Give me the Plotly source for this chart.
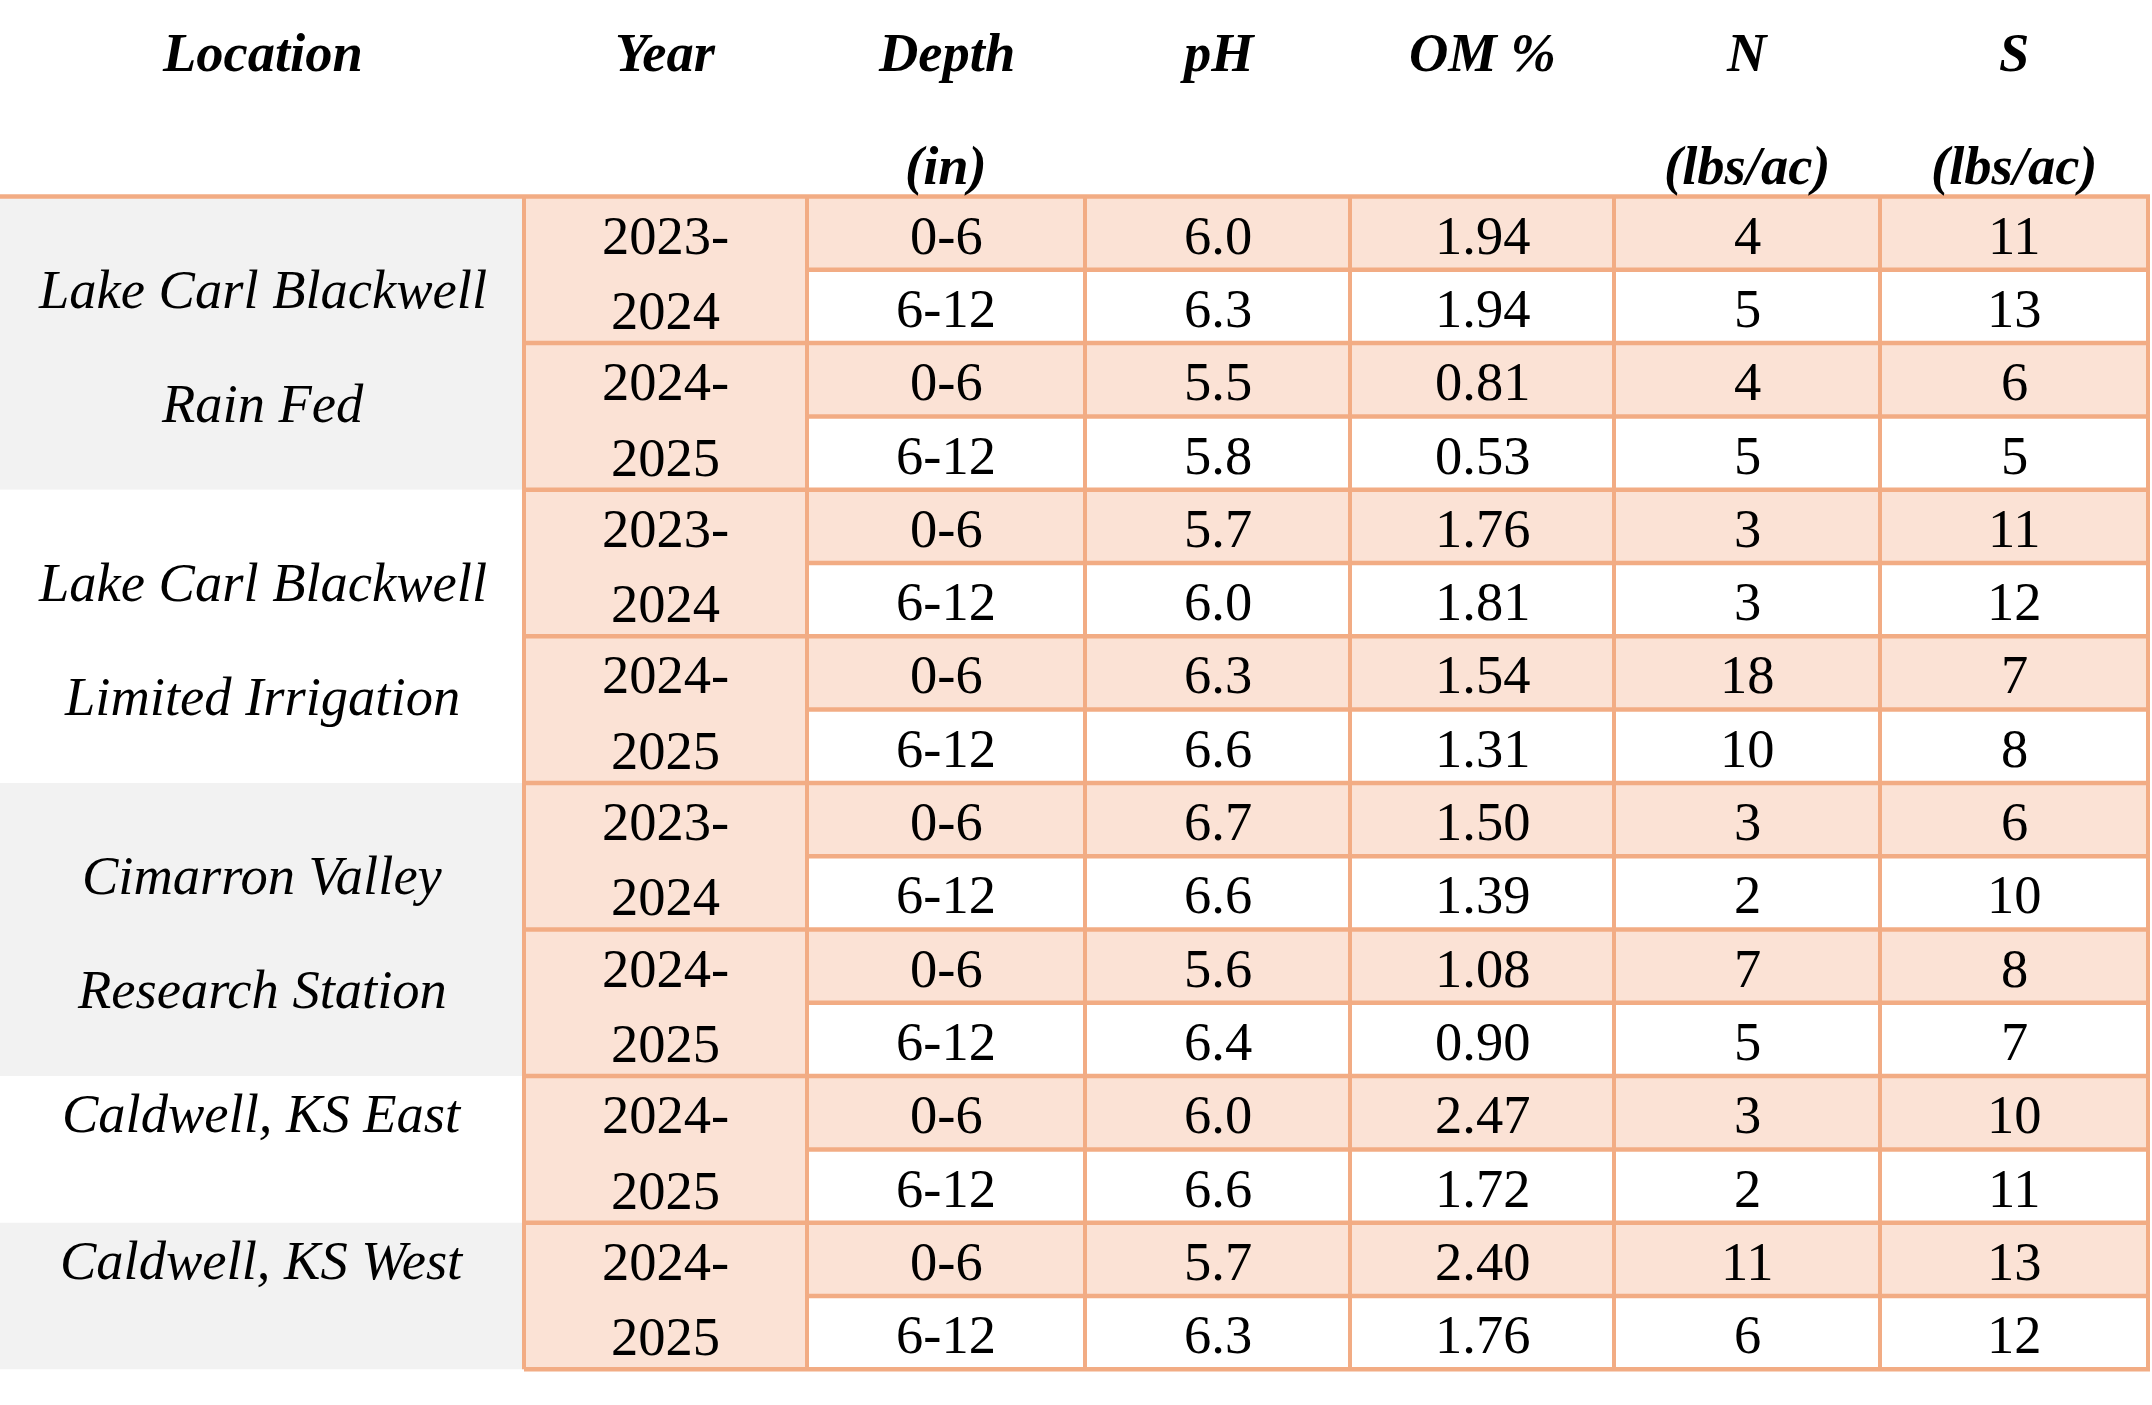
import plotly.graph_objects as go

# ---------------- data ----------------
headers_line1 = ["Location", "Year", "Depth", "pH", "OM %", "N", "S"]
headers_line2 = ["", "", "(in)", "", "", "(lbs/ac)", "(lbs/ac)"]

locations = [
    ["Lake Carl Blackwell", "Rain Fed"],
    ["Lake Carl Blackwell", "Limited Irrigation"],
    ["Cimarron Valley", "Research Station"],
    ["Caldwell, KS East"],
    ["Caldwell, KS West"],
]
years_per_location = [
    ["2023-2024", "2024-2025"],
    ["2023-2024", "2024-2025"],
    ["2023-2024", "2024-2025"],
    ["2024-2025"],
    ["2024-2025"],
]
depth = ["0-6", "6-12", "0-6", "6-12", "0-6", "6-12", "0-6", "6-12",
         "0-6", "6-12", "0-6", "6-12", "0-6", "6-12", "0-6", "6-12"]
ph = [6.0, 6.3, 5.5, 5.8, 5.7, 6.0, 6.3, 6.6, 6.7, 6.6, 5.6, 6.4, 6.0, 6.6, 5.7, 6.3]
om = [1.94, 1.94, 0.81, 0.53, 1.76, 1.81, 1.54, 1.31, 1.50, 1.39, 1.08, 0.90,
      2.47, 1.72, 2.40, 1.76]
n_lbs = [4, 5, 4, 5, 3, 3, 18, 10, 3, 2, 7, 5, 3, 2, 11, 6]
s_lbs = [11, 13, 6, 5, 11, 12, 7, 8, 6, 10, 8, 7, 10, 11, 13, 12]

# ---------------- layout constants ----------------
W, H = 2152, 1405
col_edges = [0, 524, 807, 1085, 1350, 1614, 1880, 2148]
header_bottom = 196.5
row_h = 73.3
rows_per_year = 2

LINE = "#F2AC84"
PEACH = "#FBE2D5"
GREY = "#F2F2F2"
WHITE = "#FFFFFF"
FONT = "Liberation Serif, Times New Roman, serif"
FS = 54.5

n_rows = len(depth)
table_bottom = header_bottom + n_rows * row_h


def row_top(i):
    return header_bottom + i * row_h


def row_center(i):
    return header_bottom + (i + 0.5) * row_h


def col_center(c):
    return (col_edges[c] + col_edges[c + 1]) / 2


shapes = []
annotations = []


def rect(x0, x1, y0, y1, color):
    shapes.append(dict(type="rect", xref="x", yref="y", x0=x0, x1=x1, y0=y0, y1=y1,
                       fillcolor=color, line=dict(width=0), layer="below"))


def hline(x0, x1, y, w=4.5):
    shapes.append(dict(type="line", xref="x", yref="y", x0=x0, x1=x1, y0=y, y1=y,
                       line=dict(color=LINE, width=w)))


def vline(x, y0, y1, w=4):
    shapes.append(dict(type="line", xref="x", yref="y", x0=x, x1=x, y0=y0, y1=y1,
                       line=dict(color=LINE, width=w)))


def text(x, y, t, style="normal", weight="normal"):
    annotations.append(dict(x=x, y=y, xref="x", yref="y", text=t, showarrow=False,
                            xanchor="center", yanchor="middle",
                            font=dict(family=FONT, size=FS, color="#000000",
                                      style=style, weight=weight)))


# ---------------- fills ----------------
r = 0
for g, yrs in enumerate(locations):
    nr = len(years_per_location[g]) * rows_per_year
    rect(col_edges[0], col_edges[1], row_top(r), row_top(r + nr), GREY if g % 2 == 0 else WHITE)
    r += nr
rect(col_edges[1], col_edges[2], row_top(0), row_top(n_rows), PEACH)
for i in range(n_rows):
    rect(col_edges[2], col_edges[-1], row_top(i), row_top(i + 1), PEACH if i % 2 == 0 else WHITE)

# ---------------- lines ----------------
hline(0, col_edges[-1] + 2, header_bottom, 4.5)
for i in range(1, n_rows + 1):
    x0 = col_edges[1] if i % rows_per_year == 0 else col_edges[2]
    hline(x0, col_edges[-1] + 2, row_top(i))
for c in range(1, len(col_edges)):
    vline(col_edges[c], header_bottom, table_bottom)

# ---------------- header text ----------------
for c, (h1, h2) in enumerate(zip(headers_line1, headers_line2)):
    text(col_center(c), 52, h1, "italic", "bold")
    if h2:
        text(col_center(c), 165, h2, "italic", "bold")

# ---------------- location & year text ----------------
r = 0
for g, lines in enumerate(locations):
    yrs = years_per_location[g]
    nr = len(yrs) * rows_per_year
    if len(lines) == 2:
        mid = (row_top(r) + row_top(r + nr)) / 2 + 3
        text(col_center(0), mid - 57, lines[0], "italic")
        text(col_center(0), mid + 57, lines[1], "italic")
    else:
        text(col_center(0), row_center(r) + 1, lines[0], "italic")
    for k, yr in enumerate(yrs):
        a, b = yr.split("-")
        rr = r + k * rows_per_year
        text(col_center(1), row_center(rr) + 2, a + "-")
        text(col_center(1), row_center(rr + 1) + 4, b)
    r += nr

# ---------------- data cells ----------------
for i in range(n_rows):
    vals = [depth[i], f"{ph[i]:.1f}", f"{om[i]:.2f}", str(n_lbs[i]), str(s_lbs[i])]
    for j, v in enumerate(vals):
        text(col_center(j + 2), row_center(i) + 2, v)

fig = go.Figure()
fig.add_trace(go.Scatter(x=[0, W], y=[0, H], mode="markers",
                         marker=dict(opacity=0), hoverinfo="skip", showlegend=False))
fig.update_layout(
    width=W, height=H,
    margin=dict(l=0, r=0, t=0, b=0),
    paper_bgcolor="white", plot_bgcolor="white",
    xaxis=dict(range=[0, W], visible=False, fixedrange=True),
    yaxis=dict(range=[H, 0], visible=False, fixedrange=True),
    shapes=shapes, annotations=annotations, showlegend=False,
)
fig.write_html("out.html", config=dict(displayModeBar=False, staticPlot=True),
               post_script="document.body.style.margin='0';document.body.style.overflow='hidden';")
